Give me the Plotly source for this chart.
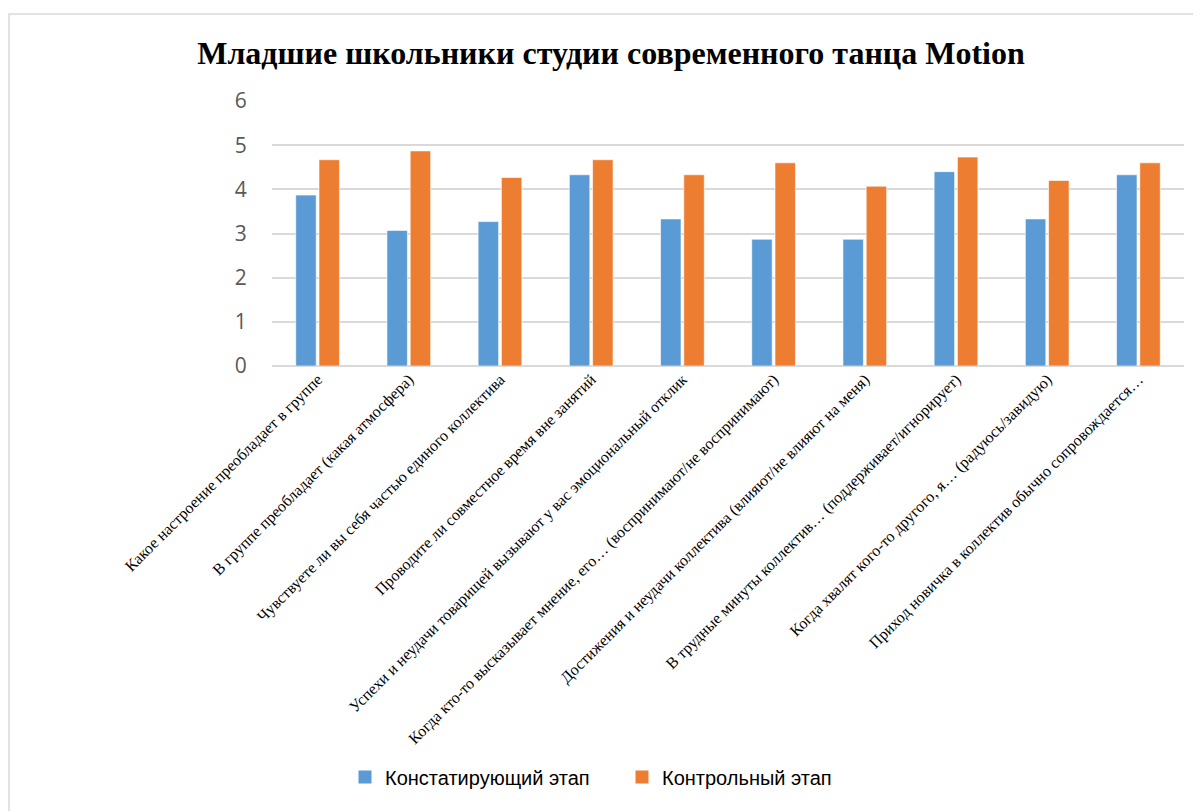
import plotly.graph_objects as go

categories = [
    "Какое настроение преобладает в группе",
    "В группе преобладает (какая атмосфера)",
    "Чувствуете ли вы себя частью единого коллектива",
    "Проводите ли совместное время вне занятий",
    "Успехи и неудачи товарищей вызывают у вас эмоциональный отклик",
    "Когда кто-то высказывает мнение, его… (воспринимают/не воспринимают)",
    "Достижения и неудачи коллектива (влияют/не влияют на меня)",
    "В трудные минуты коллектив… (поддерживает/игнорирует)",
    "Когда хвалят кого-то другого, я… (радуюсь/завидую)",
    "Приход новичка в коллектив обычно сопровождается…",
]
stage_ascertaining = [3.87, 3.07, 3.27, 4.33, 3.33, 2.87, 2.87, 4.4, 3.33, 4.33]
stage_control = [4.67, 4.87, 4.27, 4.67, 4.33, 4.6, 4.07, 4.73, 4.2, 4.6]
series_names = ["Констатирующий этап", "Контрольный этап"]
series_colors = ["#5B9BD5", "#ED7D31"]
title_text = "Младшие школьники студии современного танца Motion"

fig = go.Figure()
for vals, name, col in zip([stage_ascertaining, stage_control], series_names, series_colors):
    fig.add_trace(go.Bar(x=categories, y=vals, name=name, showlegend=False,
                         marker=dict(color=col, line=dict(color="rgba(255,255,255,0.6)", width=1))))
# legend entries with larger square markers
for name, col in zip(series_names, series_colors):
    fig.add_trace(go.Scatter(x=[None], y=[None], mode="markers", name=name,
                             marker=dict(symbol="square", size=13, color=col)))

OFF = 8  # page body margin
W, H = 1201, 811
L, T = 272 - OFF, 101 - OFF
R = W - (1184 - OFF)
B = H - (366 - OFF)
pw = W - L - R
ph = H - T - B

fig.update_layout(
    width=W, height=H,
    margin=dict(l=L, r=R, t=T, b=B, autoexpand=False),
    paper_bgcolor="white", plot_bgcolor="white",
    barmode="group", bargap=0.49, bargroupgap=0.12,
    title=dict(text="<b>" + title_text + "</b>", x=(611 - OFF) / W, xanchor="center",
               y=1 - (53 - OFF) / H, yanchor="middle",
               font=dict(family="Liberation Serif, Times New Roman, serif", size=32, color="black")),
    legend=dict(orientation="h", x=(345 - 272) / pw, xanchor="left",
                y=-(777 - 366) / ph, yanchor="middle",
                font=dict(family="Liberation Sans, Arial, sans-serif", size=20, color="black"),
                itemwidth=30, entrywidth=232, entrywidthmode="pixels",
                traceorder="normal", tracegroupgap=0),
    showlegend=True,
)
fig.update_yaxes(range=[0, 6], dtick=1, showgrid=True, gridcolor="#D9D9D9", gridwidth=1.5,
                 zeroline=True, zerolinecolor="#D9D9D9", zerolinewidth=2, showline=False,
                 ticks="outside", ticklen=20, tickcolor="rgba(0,0,0,0)",
                 tickfont=dict(family="Open Sans, Liberation Sans, sans-serif", size=21, color="#595959"))
fig.update_xaxes(tickangle=-45, showgrid=False, showline=False, ticks="",
                 tickfont=dict(family="Liberation Serif, Times New Roman, serif", size=16, color="black"))

# outer chart border (left and top edges visible)
fig.add_shape(type="rect", xref="paper", yref="paper",
              x0=(9 - 272) / pw, x1=3, y0=-5, y1=1 + (101 - 14) / ph,
              line=dict(color="#D9D9D9", width=1.5), fillcolor="rgba(0,0,0,0)", layer="below")

fig.write_html("out.html")
